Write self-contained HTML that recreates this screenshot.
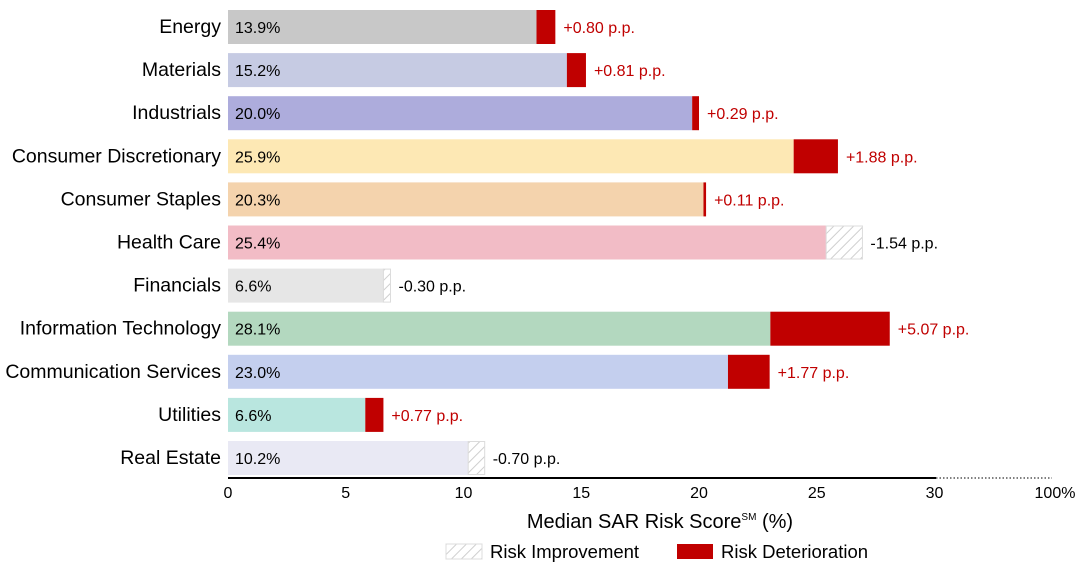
<!DOCTYPE html>
<html><head><meta charset="utf-8"><style>
html,body{margin:0;padding:0;background:#fff;}
svg{display:block;font-family:"Liberation Sans",sans-serif;}
</style></head><body>
<svg id="chart" width="1082" height="564" viewBox="0 0 1082 564">
<defs>
<pattern id="hatch" patternUnits="userSpaceOnUse" width="7" height="7" patternTransform="rotate(45)">
<rect width="7" height="7" fill="#fff"/><line x1="0" y1="0" x2="0" y2="7" stroke="#cfcfcf" stroke-width="2"/>
</pattern>
</defs>
<g id="bars"></g>
<line x1="228" y1="478" x2="936" y2="478" stroke="#000" stroke-width="2"/>
<line x1="936" y1="478" x2="1052" y2="478" stroke="#000" stroke-width="1" stroke-dasharray="1.5,2"/>
<g id="ticks" font-size="16" fill="#000"></g>
<text x="1055" y="498" font-size="16" text-anchor="middle">100%</text>
<text x="660" y="528" font-size="20" text-anchor="middle">Median SAR Risk Score<tspan font-size="10" dy="-8">SM</tspan><tspan dy="8"> (%)</tspan></text>
<g>
<rect x="446" y="544" width="36" height="15" fill="url(#hatch)" stroke="#ddd"/>
<text x="490" y="558" font-size="18.5">Risk Improvement</text>
<rect x="677" y="544" width="36" height="15" fill="#c00000"/>
<text x="721" y="558" font-size="18.5">Risk Deterioration</text>
</g>
</svg>
<script>
const categories=["Energy","Materials","Industrials","Consumer Discretionary","Consumer Staples","Health Care","Financials","Information Technology","Communication Services","Utilities","Real Estate"];
const scores=[13.9,15.2,20.0,25.9,20.3,25.4,6.6,28.1,23.0,6.6,10.2];
const changes=[0.80,0.81,0.29,1.88,0.11,-1.54,-0.30,5.07,1.77,0.77,-0.70];
const colors=["#c8c8c8","#c6cbe3","#adacdc","#fde8b4","#f4d3ad","#f2bcc6","#e6e6e6","#b3d8bf","#c4cfee","#b9e6df","#e9e9f4"];
const ticks=[0,5,10,15,20,25,30];
const NS="http://www.w3.org/2000/svg";
const x=v=>228+v*23.55;
const y=i=>10+i*43.1;
const bh=34;
function mk(tag,attrs){const e=document.createElementNS(NS,tag);for(const k in attrs)e.setAttribute(k,attrs[k]);return e;}
const g=document.getElementById('bars');
categories.forEach((c,i)=>{
  const s=scores[i],d=changes[i];
  const base=d>0?s-d:s;
  const top=y(i);
  const lab=mk('text',{x:221,y:top+bh/2+6,'font-size':19.5,'text-anchor':'end'});
  lab.textContent=c;
  
  
  g.appendChild(lab);
  const r=mk('rect',{x:x(0),y:top,width:x(base)-x(0),height:bh,fill:colors[i]});
  
  
  g.appendChild(r);
  let end;
  if(d>0){
    const rr=mk('rect',{x:x(base),y:top,width:x(s)-x(base),height:bh,fill:'#c00000'});
    
    
    g.appendChild(rr);end=x(s);
  }else{
    const rh=mk('rect',{x:x(s),y:top+0.5,width:x(s-d)-x(s),height:bh-1,fill:'url(#hatch)',stroke:'#dcdcdc','stroke-width':1});
    
    
    g.appendChild(rh);end=x(s-d);
  }
  const vt=mk('text',{x:x(0)+7,y:top+bh/2+6,'font-size':16});
  vt.textContent=s.toFixed(1)+'%';
  
  
  g.appendChild(vt);
  const ct=mk('text',{x:end+8,y:top+bh/2+6,'font-size':16,fill:d>0?'#c00000':'#000'});
  ct.textContent=(d>0?'+':'')+d.toFixed(2)+' p.p.';
  
  
  g.appendChild(ct);
});
const tg=document.getElementById('ticks');
ticks.forEach(t=>{
  const e=mk('text',{x:x(t),y:498,'text-anchor':'middle'});
  e.textContent=t;
  
  
  tg.appendChild(e);
});
</script>
</body></html>
